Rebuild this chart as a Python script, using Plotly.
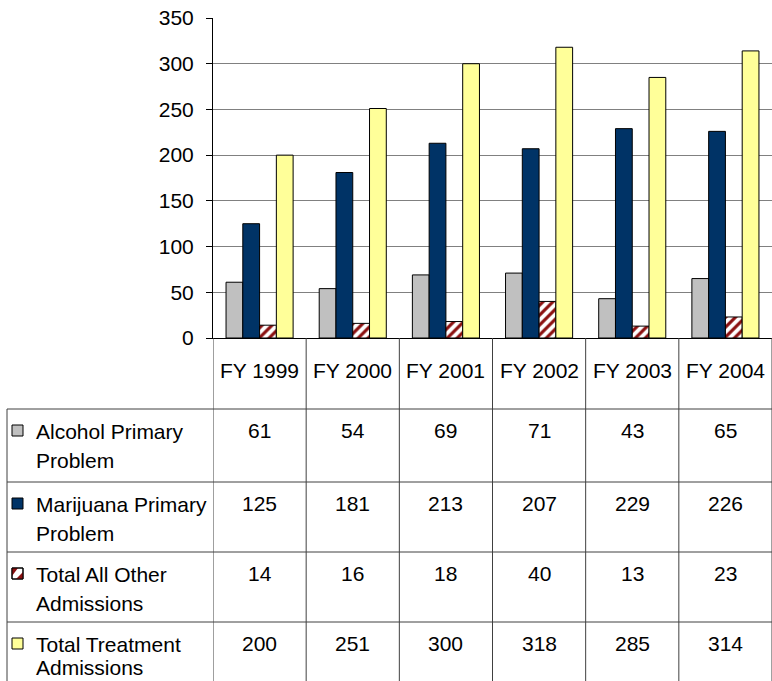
import plotly.graph_objects as go

W, H = 772, 681

years = ["FY 1999", "FY 2000", "FY 2001", "FY 2002", "FY 2003", "FY 2004"]
alcohol = [61, 54, 69, 71, 43, 65]
marijuana = [125, 181, 213, 207, 229, 226]
other = [14, 16, 18, 40, 13, 23]
total = [200, 251, 300, 318, 285, 314]

series_labels = [
    ["Alcohol Primary", "Problem"],
    ["Marijuana Primary", "Problem"],
    ["Total All Other", "Admissions"],
    ["Total Treatment", "Admissions"],
]
series_values = [alcohol, marijuana, other, total]
colors = ["#C0C0C0", "#003366", "#FFFFFF", "#FFFF99"]
HATCH = "#8B1010"

FONT = "Liberation Sans, Arial, sans-serif"
FS = 21


def px(x):
    return x / W


def py(y):
    return 1 - y / H


fig = go.Figure()
for i, (lab, vals, col) in enumerate(zip(series_labels, series_values, colors)):
    marker = dict(color=col, line=dict(color="#000000", width=1))
    if i == 2:
        marker["pattern"] = dict(shape="/", fgcolor=HATCH, bgcolor="#FFFFFF",
                                 size=7, solidity=0.45, fillmode="replace")
    fig.add_trace(go.Bar(x=years, y=vals, name=" ".join(lab), marker=marker))

shapes = []
annotations = []

# table geometry (pixels)
axis_y = 338
row_tops = [409, 482, 552, 622]
left_x = 7

# vertical column separators through category scale
for k in range(len(years) + 1):
    shapes.append(dict(type="line", xref="x", yref="paper",
                       x0=k - 0.5, x1=k - 0.5, y0=py(axis_y), y1=0,
                       line=dict(color="#404040", width=1)))
# horizontal row lines
for t in row_tops:
    shapes.append(dict(type="line", xref="paper", yref="paper",
                       x0=px(left_x), x1=1, y0=py(t), y1=py(t),
                       line=dict(color="#404040", width=1)))
# left border of legend column
shapes.append(dict(type="line", xref="paper", yref="paper",
                   x0=px(left_x), x1=px(left_x), y0=py(row_tops[0]), y1=0,
                   line=dict(color="#404040", width=1)))

# header labels
for yr in years:
    annotations.append(dict(x=yr, y=py(370), xref="x", yref="paper",
                            text=yr, showarrow=False, xanchor="center", yanchor="middle",
                            font=dict(family=FONT, size=FS, color="#000000")))

# rows
for r, (lab, vals, col) in enumerate(zip(series_labels, series_values, colors)):
    t = row_tops[r]
    # legend key
    k0, k1 = 12, 23
    ky0, ky1 = t + 16, t + 27
    shapes.append(dict(type="rect", xref="paper", yref="paper",
                       x0=px(k0), x1=px(k1), y0=py(ky1), y1=py(ky0),
                       fillcolor=col, line=dict(color="#000000", width=1)))
    if r == 2:
        shapes.append(dict(type="path", xref="paper", yref="paper",
                           path=f"M {px(k0)},{py(ky0)} L {px(k0+6)},{py(ky0)} L {px(k0)},{py(ky1-3)} Z",
                           fillcolor=HATCH, line=dict(width=0)))
        shapes.append(dict(type="path", xref="paper", yref="paper",
                           path=f"M {px(k1)},{py(ky1)} L {px(k1)},{py(ky0+4)} L {px(k0+4)},{py(ky1)} Z",
                           fillcolor=HATCH, line=dict(width=0)))
        shapes.append(dict(type="rect", xref="paper", yref="paper",
                           x0=px(k0), x1=px(k1), y0=py(ky1), y1=py(ky0),
                           fillcolor="rgba(0,0,0,0)", line=dict(color="#000000", width=1)))
    for li, line in enumerate(lab):
        yc = min(t + 22 + li * 29, H - 14)
        annotations.append(dict(x=px(34), y=py(yc), xref="paper", yref="paper",
                                text=line, showarrow=False, xanchor="left", yanchor="middle",
                                font=dict(family=FONT, size=FS, color="#000000")))
    for yr, v in zip(years, vals):
        annotations.append(dict(x=yr, y=py(t + 21), xref="x", yref="paper",
                                text=str(v), showarrow=False, xanchor="center", yanchor="middle",
                                font=dict(family=FONT, size=FS, color="#000000")))

fig.update_layout(
    width=W, height=H,
    margin=dict(l=0, r=0, t=0, b=0, autoexpand=False),
    paper_bgcolor="#FFFFFF", plot_bgcolor="#FFFFFF",
    barmode="group", bargap=0.28, bargroupgap=0,
    showlegend=False,
    shapes=shapes, annotations=annotations,
    font=dict(family=FONT, size=FS, color="#000000"),
    xaxis=dict(domain=[px(213), 1], range=[-0.5, 5.5], showticklabels=False,
               showline=True, linecolor="#000000", linewidth=1, ticks="",
               showgrid=False, zeroline=False, fixedrange=True),
    yaxis=dict(domain=[py(338), py(18)], range=[0, 350], dtick=50, tick0=0,
               showline=True, linecolor="#000000", linewidth=1,
               ticks="outside", ticklen=6, tickcolor="#000000",
               showgrid=True, gridcolor="#808080", gridwidth=1,
               zeroline=False, ticklabelstandoff=8,
               tickfont=dict(family=FONT, size=FS, color="#000000"), fixedrange=True),
)

fig.write_html("out.html")
